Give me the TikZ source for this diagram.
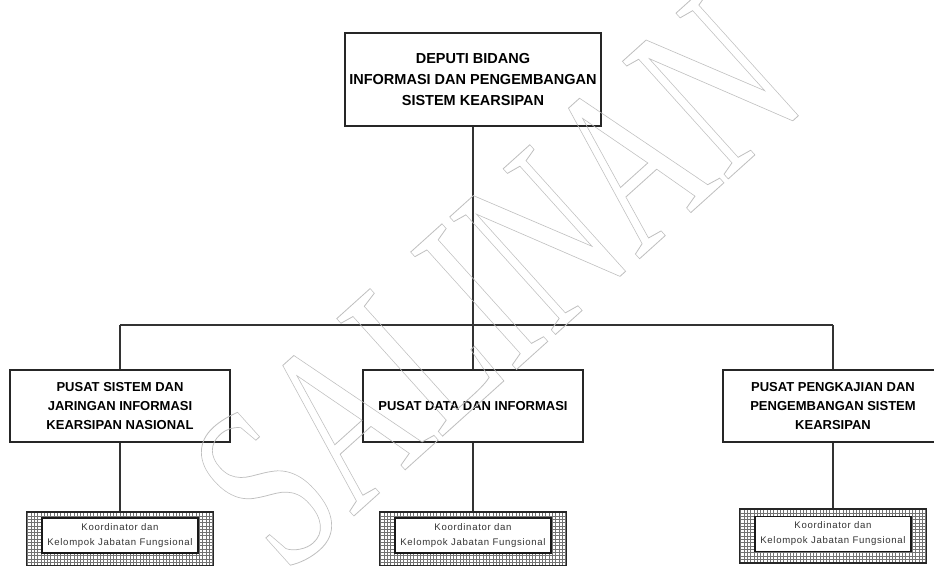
\documentclass[tikz,border=0pt]{standalone}
\usepackage{fontspec}
\setmainfont{Liberation Sans}
\newfontfamily\wmfont{Liberation Serif}
\newfontfamily\kfont{Liberation Sans}[LetterSpace=7]
% outline (stroked, unfilled) text via PDF text render mode
\newcommand\outlinetext[1]{\special{pdf:literal direct 1 Tr 0.55 w}#1\special{pdf:literal direct 0 Tr}}
\begin{document}
\begin{tikzpicture}[x=1pt,y=-1pt,
  line/.style={draw=black!80, line width=1.3pt},
  unit/.style={draw=black!85, line width=1.4pt, fill=white, align=center,
    inner sep=0pt, text=black, font=\bfseries\fontsize{13}{19}\selectfont},
  hatchbox/.style={draw=black!85, line width=1.3pt, inner sep=0pt,
    minimum width=187pt, minimum height=54pt,
    path picture={\draw[black!55, line width=0.55pt, step=3.3pt]
      (path picture bounding box.south west) grid (path picture bounding box.north east);}},
  kbox/.style={draw=black!90, line width=1.6pt, fill=white, align=center,
    inner sep=0pt, minimum width=156pt, minimum height=35pt, text=black!80,
    font=\kfont\fontsize{9.6}{15}\selectfont},
  mark wm/.style={text=black!25, inner sep=0pt, font=\wmfont\fontsize{161}{161}\selectfont}]
\useasboundingbox (0,0) rectangle (934,565);

% head of the deputy
\node[unit, minimum width=256pt, minimum height=93pt,
  font=\bfseries\fontsize{14.5}{21}\selectfont] (dep) at (473,79.5)
  {DEPUTI BIDANG\\INFORMASI DAN PENGEMBANGAN\\SISTEM KEARSIPAN};

% the three centres
\node[unit, minimum width=220pt, minimum height=72pt] (psj) at (120,406)
  {PUSAT SISTEM DAN\\JARINGAN INFORMASI\\KEARSIPAN NASIONAL};
\node[unit, minimum width=220pt, minimum height=72pt] (pdi) at (473,406)
  {PUSAT DATA DAN INFORMASI};
\node[unit, minimum width=220pt, minimum height=72pt] (ppk) at (833,406)
  {PUSAT PENGKAJIAN DAN\\PENGEMBANGAN SISTEM\\KEARSIPAN};

% functional groups
\node[hatchbox] (h1) at (120,539) {};
\node[kbox] (k1) at (120,535.5) {Koordinator dan\\Kelompok Jabatan Fungsional};
\node[hatchbox] (h2) at (473,539) {};
\node[kbox] (k2) at (473,535.5) {Koordinator dan\\Kelompok Jabatan Fungsional};
\node[hatchbox] (h3) at (833,536) {};
\node[kbox] (k3) at (833,534) {Koordinator dan\\Kelompok Jabatan Fungsional};

% connectors
\coordinate (busL) at (120,325);
\coordinate (busR) at (833,325);
\draw[line] (busL) -- (busR);
\draw[line] (dep.south) -- (dep.south |- busL);
\draw[line] (busL) -- (psj.north);
\draw[line] (pdi.north |- busL) -- (pdi.north);
\draw[line] (busR) -- (ppk.north);
\draw[line] (psj.south) -- (h1.north);
\draw[line] (pdi.south) -- (h2.north);
\draw[line] (ppk.south) -- (h3.north);

% watermark: tall letters, turned along the diagonal
\node[mark wm, rotate=42, yscale=1.5] (wm) at (496,282) {\outlinetext{SALINAN}};
\end{tikzpicture}
\end{document}
